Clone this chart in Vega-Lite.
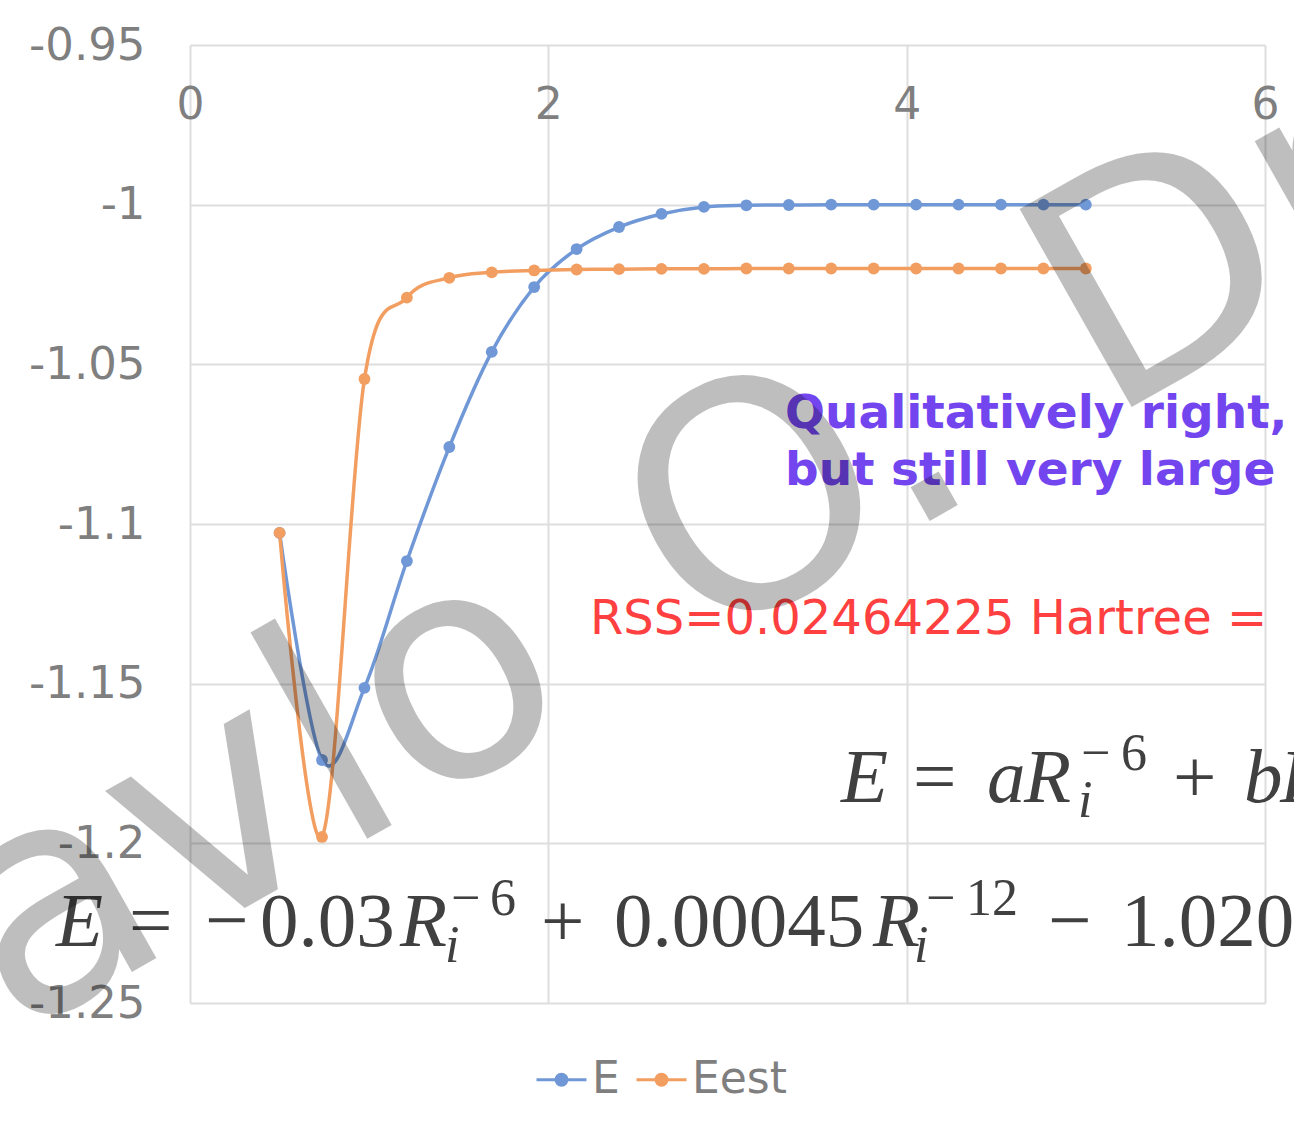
{
  "$schema": "https://vega.github.io/schema/vega-lite/v6.json",
  "width": 1075,
  "height": 958,
  "autosize": {"type": "none"},
  "padding": {"left": 190, "top": 45, "right": 29, "bottom": 121},
  "background": "white",
  "config": {"view": {"stroke": null}, "font": "DejaVu Sans"},
  "datasets": {
    "series": [
      {"series": "E", "x": 0.5, "y": -1.1028},
      {"series": "E", "x": 0.7368, "y": -1.1739},
      {"series": "E", "x": 0.9737, "y": -1.1513},
      {"series": "E", "x": 1.2105, "y": -1.1116},
      {"series": "E", "x": 1.4474, "y": -1.0759},
      {"series": "E", "x": 1.6842, "y": -1.0461},
      {"series": "E", "x": 1.9211, "y": -1.0258},
      {"series": "E", "x": 2.1579, "y": -1.0139},
      {"series": "E", "x": 2.3947, "y": -1.007},
      {"series": "E", "x": 2.6316, "y": -1.0029},
      {"series": "E", "x": 2.8684, "y": -1.0007},
      {"series": "E", "x": 3.1053, "y": -1.0002},
      {"series": "E", "x": 3.3421, "y": -1.0001},
      {"series": "E", "x": 3.5789, "y": -1.0},
      {"series": "E", "x": 3.8158, "y": -1.0},
      {"series": "E", "x": 4.0526, "y": -1.0},
      {"series": "E", "x": 4.2895, "y": -1.0},
      {"series": "E", "x": 4.5263, "y": -1.0},
      {"series": "E", "x": 4.7632, "y": -1.0},
      {"series": "E", "x": 5.0, "y": -1.0},
      {"series": "Eest", "x": 0.5, "y": -1.1028},
      {"series": "Eest", "x": 0.7368, "y": -1.198},
      {"series": "Eest", "x": 0.9737, "y": -1.0546},
      {"series": "Eest", "x": 1.2105, "y": -1.0291},
      {"series": "Eest", "x": 1.4474, "y": -1.0229},
      {"series": "Eest", "x": 1.6842, "y": -1.0212},
      {"series": "Eest", "x": 1.9211, "y": -1.0206},
      {"series": "Eest", "x": 2.1579, "y": -1.0203},
      {"series": "Eest", "x": 2.3947, "y": -1.0202},
      {"series": "Eest", "x": 2.6316, "y": -1.0201},
      {"series": "Eest", "x": 2.8684, "y": -1.0201},
      {"series": "Eest", "x": 3.1053, "y": -1.02},
      {"series": "Eest", "x": 3.3421, "y": -1.02},
      {"series": "Eest", "x": 3.5789, "y": -1.02},
      {"series": "Eest", "x": 3.8158, "y": -1.02},
      {"series": "Eest", "x": 4.0526, "y": -1.02},
      {"series": "Eest", "x": 4.2895, "y": -1.02},
      {"series": "Eest", "x": 4.5263, "y": -1.02},
      {"series": "Eest", "x": 4.7632, "y": -1.02},
      {"series": "Eest", "x": 5.0, "y": -1.02}
    ],
    "note": [
      {"t": "Qualitatively right,", "x": 3.321, "y": -1.0699},
      {"t": "but still very large", "x": 3.321, "y": -1.0878}
    ],
    "rss": [
      {"t": "RSS=0.02464225 Hartree = ", "x": 2.2325, "y": -1.1345}
    ],
    "mathMain": [
      {"t": "=", "x": -0.3405, "y": -1.23215},
      {"t": "−", "x": 0.0837, "y": -1.23215},
      {"t": "0.03", "x": 0.3907, "y": -1.23215},
      {"t": "+", "x": 1.9591, "y": -1.23215},
      {"t": "0.00045", "x": 2.3665, "y": -1.23215},
      {"t": "−", "x": 4.7888, "y": -1.23215},
      {"t": "1.020", "x": 5.1963, "y": -1.23215},
      {"t": "=", "x": 4.0353, "y": -1.18706},
      {"t": "+", "x": 5.4865, "y": -1.18706}
    ],
    "mathItalic": [
      {"t": "E", "x": -0.7479, "y": -1.23215},
      {"t": "R", "x": 1.1721, "y": -1.23215},
      {"t": "R", "x": 3.8121, "y": -1.23215},
      {"t": "E", "x": 3.6335, "y": -1.18706},
      {"t": "a", "x": 4.4484, "y": -1.18706},
      {"t": "R", "x": 4.6549, "y": -1.18706},
      {"t": "b", "x": 5.8828, "y": -1.18706},
      {"t": "R", "x": 6.0837, "y": -1.18706}
    ],
    "mathSup": [
      {"t": "−", "x": 1.4567, "y": -1.22244},
      {"t": "6", "x": 1.6744, "y": -1.22244},
      {"t": "−", "x": 4.1079, "y": -1.22244},
      {"t": "12", "x": 4.3312, "y": -1.22244},
      {"t": "−", "x": 4.973, "y": -1.17704},
      {"t": "6", "x": 5.1963, "y": -1.17704}
    ],
    "mathSub": [
      {"t": "i", "x": 1.4233, "y": -1.23716},
      {"t": "i", "x": 4.0409, "y": -1.23716},
      {"t": "i", "x": 4.9563, "y": -1.19175}
    ],
    "watermark": [
      {"t": "Pavlo", "x": -1.825, "y": -1.2879},
      {"t": "O.", "x": 2.835, "y": -1.1401},
      {"t": "Dral", "x": 5.107, "y": -1.0681}
    ]
  },
  "encoding": {
    "x": {
      "field": "x",
      "type": "quantitative",
      "scale": {"domain": [0, 6], "nice": false, "zero": false},
      "axis": {
        "orient": "top",
        "values": [0, 2, 4, 6],
        "title": null,
        "domain": false,
        "ticks": false,
        "tickSize": 0,
        "grid": true,
        "gridColor": "#dedede",
        "gridWidth": 2,
        "labelFont": "DejaVu Sans",
        "labelFontSize": 44,
        "labelColor": "#7f7f7f",
        "labelPadding": -73,
        "labelBaseline": "alphabetic",
        "labelFlush": false,
        "labelOverlap": false,
        "labelBound": false,
        "labelExpr": "toString(datum.value)"
      }
    },
    "y": {
      "field": "y",
      "type": "quantitative",
      "scale": {"domain": [-1.25, -0.95], "nice": false, "zero": false},
      "axis": {
        "values": [-1.25, -1.2, -1.15, -1.1, -1.05, -1, -0.95],
        "title": null,
        "domain": false,
        "ticks": false,
        "tickSize": 0,
        "grid": true,
        "gridColor": "#dedede",
        "gridWidth": 2,
        "labelFont": "DejaVu Sans",
        "labelFontSize": 45,
        "labelColor": "#7f7f7f",
        "labelPadding": 45,
        "labelFlush": false,
        "labelOverlap": false,
        "labelBound": false,
        "labelExpr": "toString(datum.value)"
      }
    }
  },
  "layer": [
    {
      "data": {"name": "series"},
      "mark": {"type": "line", "interpolate": "cardinal", "strokeWidth": 3.5},
      "encoding": {
        "color": {
          "field": "series",
          "type": "nominal",
          "scale": {"domain": ["E", "Eest"], "range": ["#7198D6", "#F29E61"]},
          "legend": {
            "title": null,
            "orient": "none",
            "legendX": 345,
            "legendY": 1008,
            "direction": "horizontal",
            "symbolType": "M-1,0L1,0M0.22,0A0.22,0.22,0,1,1,-0.22,0A0.22,0.22,0,1,1,0.22,0Z",
            "symbolSize": 2500,
            "symbolStrokeWidth": 3,
            "labelFont": "DejaVu Sans",
            "labelFontSize": 44,
            "labelColor": "#7f7f7f",
            "labelOffset": 4,
            "columnPadding": 10,
            "padding": 0,
            "encode": {
              "symbols": {
                "update": {
                  "fill": {"scale": "color", "field": "value"},
                  "stroke": {"scale": "color", "field": "value"},
                  "opacity": {"value": 1}
                }
              }
            }
          }
        }
      }
    },
    {
      "data": {"name": "series"},
      "mark": {"type": "circle", "size": 140, "opacity": 1},
      "encoding": {
        "color": {"field": "series", "type": "nominal", "legend": null}
      }
    },
    {
      "data": {"name": "note"},
      "mark": {"type": "text", "font": "DejaVu Sans", "fontWeight": "bold", "fontSize": 47, "color": "#7245EF", "align": "left", "baseline": "alphabetic"},
      "encoding": {"text": {"field": "t"}}
    },
    {
      "data": {"name": "rss"},
      "mark": {"type": "text", "font": "DejaVu Sans", "fontSize": 48, "color": "#FF4040", "align": "left", "baseline": "alphabetic"},
      "encoding": {"text": {"field": "t"}}
    },
    {
      "data": {"name": "mathMain"},
      "mark": {"type": "text", "font": "Liberation Serif", "fontSize": 77, "color": "#404040", "align": "left", "baseline": "alphabetic"},
      "encoding": {"text": {"field": "t"}}
    },
    {
      "data": {"name": "mathItalic"},
      "mark": {"type": "text", "font": "Liberation Serif", "fontStyle": "italic", "fontSize": 77, "color": "#404040", "align": "left", "baseline": "alphabetic"},
      "encoding": {"text": {"field": "t"}}
    },
    {
      "data": {"name": "mathSup"},
      "mark": {"type": "text", "font": "Liberation Serif", "fontSize": 52, "color": "#404040", "align": "left", "baseline": "alphabetic"},
      "encoding": {"text": {"field": "t"}}
    },
    {
      "data": {"name": "mathSub"},
      "mark": {"type": "text", "font": "Liberation Serif", "fontStyle": "italic", "fontSize": 52, "color": "#404040", "align": "left", "baseline": "alphabetic"},
      "encoding": {"text": {"field": "t"}}
    },
    {
      "data": {"name": "watermark"},
      "mark": {"type": "text", "font": "DejaVu Sans", "fontSize": 312, "color": "#000000", "opacity": 0.25, "angle": -29.5, "align": "left", "baseline": "alphabetic"},
      "encoding": {"text": {"field": "t"}}
    }
  ]
}
